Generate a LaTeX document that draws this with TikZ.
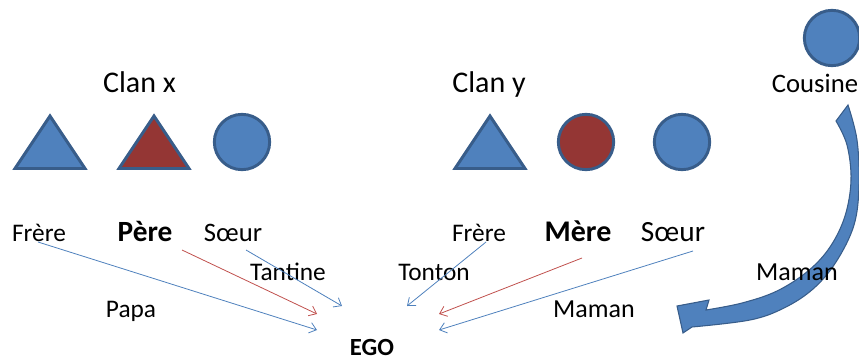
\documentclass[tikz,border=0pt]{standalone}
\usepackage{fontspec}
\setmainfont{Carlito}
\usetikzlibrary{arrows.meta}
\definecolor{fillblue}{HTML}{4F81BD}
\definecolor{edgeblue}{HTML}{385D8A}
\definecolor{fillred}{HTML}{943634}
\definecolor{linered}{HTML}{C0504D}
\newcommand\myfs[1]{\fontsize{#1}{#1}\selectfont}
\tikzset{
  shapeline/.style={draw=edgeblue, line width=2.2pt, line join=miter},
  bluecirc/.style={circle, shapeline, fill=fillblue, minimum size=41.5pt, inner sep=0pt},
  redcirc/.style={circle, shapeline, fill=fillred, minimum size=41.5pt, inner sep=0pt},
  lbl/.style={anchor=base, inner sep=0pt, text=black},
  kin/.style={lbl, font=\myfs{19pt}},
  boldkin/.style={lbl, font=\myfs{22.5pt}\bfseries},
  thinarrow/.style={line width=0.6pt, -{Straight Barb[length=5pt, width=8pt, line width=0.6pt]}},
  bluearrow/.style={thinarrow, draw=fillblue},
  redarrow/.style={thinarrow, draw=linered},
}
\begin{document}
\begin{tikzpicture}[x=0.75pt, y=-0.75pt]
\useasboundingbox (0,0) rectangle (859,360);

% big curved arrow (behind the texts)
\filldraw[fill=fillblue, draw=edgeblue, line width=0.8pt, line join=miter]
  plot[smooth, tension=0.6] coordinates {(848,105) (857,140) (859,185) (854,225) (836,262) (813,289) (784,308) (750,320) (692,327)}
  -- (683,333) -- (677,306) -- (709,300)
  -- plot[smooth, tension=0.6] coordinates {(706,310) (742,303) (777,291) (808,271) (830,247) (845,216) (851,180) (847,145) (836,121)}
  -- cycle;

% titles
\node[lbl, font=\myfs{22.5pt}] (clanx) at (139.5,93) {Clan x};
\node[lbl, font=\myfs{22.5pt}] (clany) at (489,93) {Clan y};
\node[lbl, font=\myfs{20pt}] (cousinelbl) at (815,93) {Cousine};

% shapes
\filldraw[shapeline, fill=fillblue] (15,168.5) -- (50,116) -- (85,168.5) -- cycle;
\filldraw[shapeline, fill=fillred] (119,168.5) -- (154,116) -- (189,168.5) -- cycle;
\node[bluecirc] (sxc) at (242,142) {};
\filldraw[shapeline, fill=fillblue] (455,168.5) -- (490,116) -- (525,168.5) -- cycle;
\node[redcirc] (mere) at (586,142) {};
\node[bluecirc] (syc) at (682,142) {};
\node[bluecirc] (cousine) at (832,38) {};

% labels
\node[kin] (frerex) at (39,241) {Frère};
\node[boldkin, font=\myfs{22pt}\bfseries] (pere) at (145,241) {Père};
\node[kin, font=\myfs{20pt}] (soeurx) at (233,241) {Sœur};
\node[kin] (tantine) at (288,280) {Tantine};
\node[kin] (tonton) at (434,280) {Tonton};
\node[kin] (papa) at (131,317) {Papa};
\node[lbl, font=\myfs{18.5pt}\bfseries] (ego) at (372,355) {EGO};
\node[kin] (frerey) at (479,241) {Frère};
\node[boldkin] (merelbl) at (578,241) {Mère};
\node[kin, font=\myfs{22pt}] (soeury) at (673,241) {Sœur};
\node[kin, font=\myfs{19.5pt}] (maman) at (594,317) {Maman};
\node[kin, font=\myfs{19.5pt}] (maman2) at (797,280) {Maman};

% arrow ends
\coordinate (a1s) at (38,242);  \coordinate (a1e) at (317,330);
\coordinate (a2s) at (182,250); \coordinate (a2e) at (317,314);
\coordinate (a3s) at (246,250); \coordinate (a3e) at (342,306);
\coordinate (a4s) at (486,242); \coordinate (a4e) at (407,306);
\coordinate (a5s) at (582,258); \coordinate (a5e) at (439,314);
\coordinate (a6s) at (693,251); \coordinate (a6e) at (439,330);

\draw[bluearrow] (a1s) -- (a1e);
\draw[redarrow] (a2s) -- (a2e);
\draw[bluearrow] (a3s) -- (a3e);
\draw[bluearrow] (a4s) -- (a4e);
\draw[redarrow] (a5s) -- (a5e);
\draw[bluearrow] (a6s) -- (a6e);
\end{tikzpicture}
\end{document}
